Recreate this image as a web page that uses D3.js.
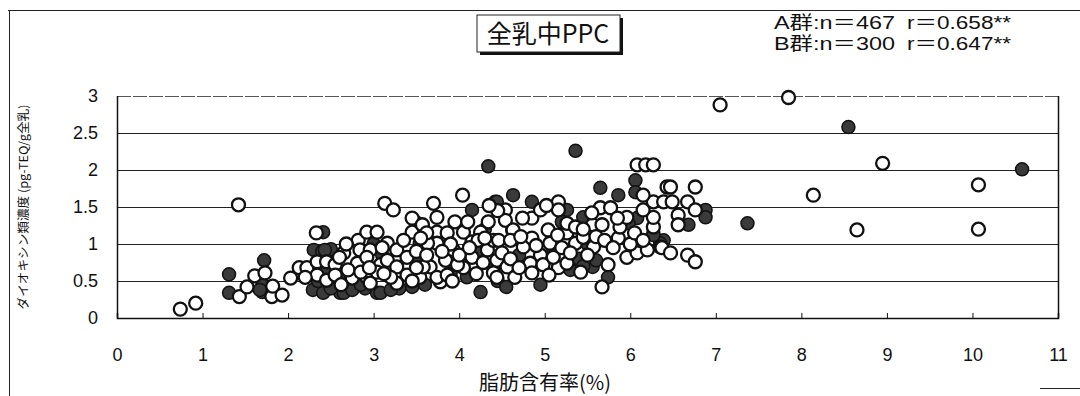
<!DOCTYPE html>
<html>
<head>
<meta charset="utf-8">
<script src="https://cdn.jsdelivr.net/npm/d3@7"></script>
<style>
  body { margin: 0; background: #fff; }
  svg { display: block; }
  .tick text { font-family: "Liberation Sans Narrow", "Liberation Sans", Arial, sans-serif; font-size: 18px; fill: #111; }
  .jp { font-family: "Noto Sans CJK JP", sans-serif; fill: #111; }
  .stat { font-family: "Liberation Sans", "Noto Sans CJK JP", sans-serif; fill: #111; }
</style>
</head>
<body>
<div class="canvas"></div>
<script>
// x = fat content (%), y = dioxin concentration (pg-TEQ/g whole milk)
const groupA = [ // filled circles
  [1.31,0.59],[1.31,0.34],[1.72,0.78],[1.7,0.45],[1.7,0.35],[1.67,0.38],[2.3,0.92],[2.4,0.9],
  [2.5,0.93],[2.41,1.16],[2.43,0.92],[2.29,0.38],[2.41,0.34],[2.61,0.34],[2.65,0.34],[2.75,0.38],
  [3.04,0.34],[3.08,0.34],[3.51,0.78],[3.57,0.96],[3.54,1.01],[3.49,1.3],[4.09,0.55],[4.15,1.46],
  [4.34,2.05],[4.42,1.57],[4.44,1.57],[4.63,1.66],[4.85,1.57],[4.62,1.19],[4.4,0.68],[4.25,0.35],
  [4.95,0.45],[5.26,1.46],[5.36,2.26],[5.45,1.36],[5.33,0.74],[5.5,0.74],[5.56,0.69],[5.4,0.8],
  [5.74,0.55],[5.65,1.76],[5.86,1.66],[6.06,1.86],[6.06,1.7],[6.08,1.35],[5.98,1.28],[6.27,1.15],
  [6.39,1.05],[6.35,1.01],[6.27,1.12],[6.68,1.26],[6.88,1.46],[6.88,1.36],[7.37,1.28],[8.55,2.58],
  [10.58,2.01],[2.9,0.4],[3.3,0.4],[3.6,0.45],[3.9,0.6],[4.2,0.9],[4.7,0.85],[5.1,0.9],[5.5,1.0],
  [3.1,0.85],[2.6,0.6],[4.3,1.2],[5.2,1.3],[2.5,0.4],[2.85,0.45],[3.2,0.38],[3.45,0.42],
  [5.3,0.65],[5.45,0.7],[5.6,0.78],[4.45,0.5],[4.55,0.42],[3.0,1.0],[2.35,0.5],[2.45,0.62]
];
const groupB = [ // open circles
  [0.74,0.12],[0.92,0.2],[1.42,1.53],[1.43,0.29],[1.52,0.42],[1.61,0.57],[1.73,0.61],[1.81,0.29],
  [1.82,0.43],[1.93,0.31],[2.03,0.54],[2.13,0.68],[2.22,0.68],[2.33,1.15],[2.34,0.58],[2.34,0.76],
  [2.45,0.76],[2.45,0.51],[2.55,0.72],[2.55,0.58],[2.65,0.88],[2.75,0.54],
  [2.82,1.05],[2.92,1.16],[3.04,1.16],[2.84,0.92],[2.96,0.92],[2.81,0.74],[2.92,0.82],[3.08,0.72],
  [2.92,0.55],[2.96,0.47],[3.04,0.62],[3.16,0.78],[3.16,1.01],[3.27,0.92],[3.27,0.69],[3.27,0.47],
  [3.39,0.82],[3.39,0.58],[3.45,1.35],[3.13,1.55],[3.23,1.46],[3.45,1.16],[3.57,1.26],[3.7,1.55],
  [3.74,1.36],[3.74,1.16],[3.74,1.01],[3.66,0.69],[3.78,0.49],[3.54,0.55],[3.86,1.15],
  [4.04,1.66],[4.34,1.3],[4.05,1.16],[4.25,1.16],[4.15,1.03],[3.93,0.92],[3.84,0.78],[4.15,0.82],
  [4.05,0.68],[4.33,0.92],[4.4,1.05],[3.63,1.01],[3.58,0.69],[3.74,0.55],[3.86,0.58],[4.44,0.78],
  [4.4,0.61],[4.54,1.46],[4.54,1.32],[4.85,1.35],[4.95,1.46],[4.74,1.35],[4.63,1.19],[4.46,1.05],
  [4.75,0.96],[4.85,1.08],[5.06,1.01],[5.04,1.19],[4.95,0.85],[4.83,0.74],[4.56,0.69],[4.44,0.55],
  [4.65,0.55],[4.85,0.61],[5.16,0.68],[5.16,1.57],[5.16,1.46],[5.26,1.15],[5.26,0.74],[5.26,1.28],
  [5.36,1.23],[5.36,1.01],[5.45,1.09],[5.56,1.26],[5.67,1.26],[5.57,0.96],[5.65,1.49],[5.77,1.49],
  [5.86,1.08],[5.88,1.23],[5.96,0.82],[6.08,0.88],[6.2,0.92],[6.35,0.96],[6.27,1.23],[5.96,1.36],
  [6.27,1.36],[6.15,1.46],[6.27,1.57],[6.39,1.57],[6.15,1.66],[6.43,1.77],[6.08,2.07],[6.18,2.07],
  [6.27,2.07],[5.74,0.72],[5.67,0.42],[6.47,1.77],[6.76,1.77],[6.49,1.57],[6.67,1.57],[6.76,1.46],
  [6.56,1.39],[6.56,1.26],[6.37,0.95],[6.47,0.88],[6.67,0.85],[6.76,0.76],
  [7.05,2.88],[7.85,2.98],[8.14,1.66],[8.65,1.19],[8.95,2.09],[10.07,1.8],[10.07,1.2],
  [2.68,1.0],[2.7,0.65],[2.62,0.45],[2.85,0.62],[3.1,0.95],[3.2,0.55],[3.35,1.05],[3.5,0.9],
  [3.5,0.68],[3.45,0.5],[3.62,0.85],[3.62,1.15],[3.9,1.0],[3.95,1.3],[3.98,0.72],[3.92,0.5],
  [4.1,1.3],[4.2,0.6],[4.28,0.75],[4.22,1.05],[4.5,0.88],[4.6,0.8],[4.6,1.05],[4.7,0.68],
  [4.72,1.1],[4.9,0.98],[4.98,0.72],[5.05,0.58],[5.1,0.82],[5.15,1.12],[5.2,0.95],[5.3,0.88],
  [5.42,0.62],[5.45,1.2],[5.5,0.85],[5.6,1.1],[5.7,1.05],[5.8,0.95],[5.85,1.35],[6.0,1.0],
  [6.05,1.15],[6.15,1.05],[4.45,1.45],[4.35,1.52],[5.02,1.52],[5.55,1.42],[2.2,0.55],[2.95,0.68],
  [3.12,0.6],[3.55,1.08],[4.0,0.85],[4.12,0.95],[4.3,1.08],[3.8,0.9],[2.6,0.82]
];
const xTicks = [0,1,2,3,4,5,6,7,8,9,10,11];
const yTicks = [0,0.5,1,1.5,2,2.5,3];
const gridValues = [0.5,1,1.5,2,2.5];
const titleText = "全乳中PPC";
const legendLines = [["A群:n＝467", "r＝0.658**"], ["B群:n＝300", "r＝0.647**"]];
const xTitle = "脂肪含有率(%)";
const yTitle = "ダイオキシン類濃度 (pg-TEQ/g全乳)";

const W = 1080, H = 396;
const pLeft = 117, pRight = 1058, pTop = 96, pBottom = 318;

const svg = d3.select(".canvas").append("svg").attr("width", W).attr("height", H);

// outer frame (partial, as in the scan)
svg.append("path").attr("d", `M8,10.5H1080M9.5,10V396M1040,388.5H1080`)
  .attr("stroke", "#222").attr("stroke-width", 1).attr("fill", "none");

const x = d3.scaleLinear([0, 11], [pLeft, pRight]);
const y = d3.scaleLinear([0, 3], [pBottom, pTop]);

// gridlines
svg.append("g").selectAll("line").data(gridValues).join("line")
  .attr("x1", pLeft).attr("x2", pRight)
  .attr("y1", d => y(d) + 0.5).attr("y2", d => y(d) + 0.5)
  .attr("stroke", "#222").attr("stroke-width", 1);

// plot border
svg.append("line").attr("x1", pLeft).attr("x2", pRight).attr("y1", pTop + 0.5).attr("y2", pTop + 0.5)
  .attr("stroke", "#555").attr("stroke-width", 1).attr("stroke-dasharray", "14,2");
svg.append("line").attr("x1", pLeft + 0.5).attr("x2", pLeft + 0.5).attr("y1", pTop).attr("y2", pBottom)
  .attr("stroke", "#111").attr("stroke-width", 1.5);
svg.append("line").attr("x1", pRight + 0.5).attr("x2", pRight + 0.5).attr("y1", pTop).attr("y2", pBottom)
  .attr("stroke", "#111").attr("stroke-width", 1.5);

// points: A first, B drawn on top
svg.append("g").selectAll("circle").data(groupA).join("circle")
  .attr("cx", d => x(d[0])).attr("cy", d => y(d[1])).attr("r", 6.5)
  .attr("fill", "#3a3a3a").attr("stroke", "#111").attr("stroke-width", 1.5);
svg.append("g").selectAll("circle").data(groupB).join("circle")
  .attr("cx", d => x(d[0])).attr("cy", d => y(d[1])).attr("r", 6.5)
  .attr("fill", "#fff").attr("stroke", "#111").attr("stroke-width", 2.3);

// axes
const xAxis = d3.axisBottom(x).tickValues(xTicks).tickSize(-5).tickPadding(30).tickFormat(d => d);
const gx = svg.append("g").attr("transform", `translate(0,${pBottom})`).call(xAxis);
gx.select(".domain").attr("stroke", "#111").attr("stroke-width", 1.5);
gx.selectAll(".tick line").attr("stroke", "#111");

const yAxis = d3.axisLeft(y).tickValues(yTicks).tickSize(0).tickPadding(19).tickFormat(d => d);
const gy = svg.append("g").attr("transform", `translate(${pLeft},0)`).call(yAxis);
gy.select(".domain").remove();

// titles
svg.append("text").attr("class", "jp").attr("x", 545).attr("y", 390)
  .attr("text-anchor", "middle").attr("font-size", 20).text(xTitle);
svg.append("text").attr("class", "jp").attr("transform", "translate(28,207) rotate(-90)")
  .attr("text-anchor", "middle").attr("font-size", 12)
  .attr("textLength", 205).attr("lengthAdjust", "spacingAndGlyphs").text(yTitle);

// boxed title with shadow
svg.append("rect").attr("x", 480).attr("y", 18).attr("width", 143).attr("height", 37).attr("fill", "#111");
svg.append("rect").attr("x", 477).attr("y", 15).attr("width", 143).attr("height", 37)
  .attr("fill", "#fff").attr("stroke", "#222").attr("stroke-width", 1);
svg.append("text").attr("class", "jp").attr("x", 548).attr("y", 43)
  .attr("text-anchor", "middle").attr("font-size", 25).text(titleText);

// group stats
const leg = svg.append("g").attr("class", "stat").attr("font-size", 18);
leg.selectAll("text.a").data(legendLines).join("text").attr("class", "a")
  .attr("x", 774).attr("y", (d, i) => 29 + i * 21)
  .attr("textLength", 121).attr("lengthAdjust", "spacingAndGlyphs").text(d => d[0]);
leg.selectAll("text.b").data(legendLines).join("text").attr("class", "b")
  .attr("x", 907).attr("y", (d, i) => 29 + i * 21)
  .attr("textLength", 104).attr("lengthAdjust", "spacingAndGlyphs").text(d => d[1]);
</script>
</body>
</html>
